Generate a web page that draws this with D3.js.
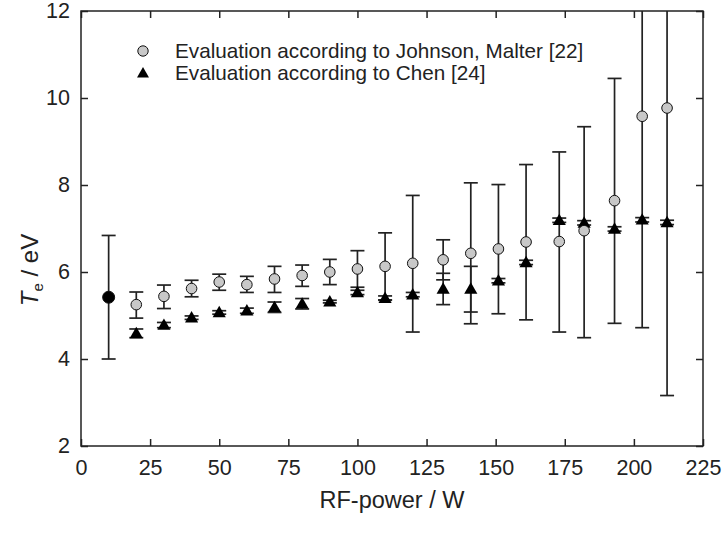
<!DOCTYPE html>
<html>
<head>
<meta charset="utf-8">
<script src="https://cdn.jsdelivr.net/npm/d3@7"></script>
<style>
  html, body { margin: 0; padding: 0; background: #fff; }
  svg { display: block; font-family: "Liberation Sans", Arial, Helvetica, sans-serif; }
</style>
</head>
<body>
<svg id="chart" width="723" height="534"></svg>
<script>
// ---- Data ----
const power = [10, 20, 30, 40, 50, 60, 70, 80, 90, 100, 110, 120, 131, 141, 151, 161, 173, 182, 193, 203, 212];

// Evaluation according to Johnson, Malter [22] (circles)
const jmTe   = [5.42, 5.25, 5.44, 5.62, 5.77, 5.71, 5.84, 5.92, 6.00, 6.07, 6.13, 6.20, 6.28, 6.43, 6.53, 6.69, 6.70, 6.95, 7.64, 9.58, 9.77];
const jmLow  = [4.00, 4.94, 5.16, 5.43, 5.58, 5.53, 5.53, 5.67, 5.71, 5.65, 5.36, 4.62, 5.82, 4.81, 5.04, 4.90, 4.62, 4.49, 4.82, 4.72, 3.16];
const jmHigh = [6.84, 5.54, 5.70, 5.81, 5.95, 5.90, 6.13, 6.16, 6.29, 6.49, 6.90, 7.76, 6.74, 8.05, 8.01, 8.47, 8.76, 9.34, 10.45, 14.40, 16.40];

// Evaluation according to Chen [24] (triangles)
const chTe   = [5.42, 4.59, 4.78, 4.95, 5.07, 5.11, 5.19, 5.27, 5.32, 5.53, 5.40, 5.48, 5.61, 5.61, 5.80, 6.22, 7.19, 7.13, 6.99, 7.20, 7.14];
const chLow  = [5.42, 4.49, 4.72, 4.91, 5.03, 5.05, 5.07, 5.15, 5.29, 5.48, 5.35, 5.43, 5.25, 5.08, 5.75, 6.17, 7.14, 7.08, 6.94, 7.15, 7.09];
const chHigh = [5.42, 4.69, 4.84, 4.99, 5.11, 5.17, 5.31, 5.39, 5.35, 5.58, 5.45, 5.53, 5.97, 6.13, 5.85, 6.27, 7.24, 7.18, 7.04, 7.25, 7.19];

const xTicks = [0, 25, 50, 75, 100, 125, 150, 175, 200, 225];
const yTicks = [2, 4, 6, 8, 10, 12];
const legendLabels = ["Evaluation according to Johnson, Malter [22]", "Evaluation according to Chen [24]"];
const xTitle = "RF-power / W";

// ---- Layout ----
const W = 723, H = 534;
const m = { left: 81, right: 20, top: 11, bottom: 88 };
const iw = W - m.left - m.right, ih = H - m.top - m.bottom;
const ink = "#222";

const svg = d3.select("#chart");
const g = svg.append("g").attr("transform", `translate(${m.left},${m.top})`);

const x = d3.scaleLinear().domain([0, 225]).range([0, iw]);
const y = d3.scaleLinear().domain([2, 12]).range([ih, 0]);

svg.append("defs").append("clipPath").attr("id", "clip")
  .append("rect").attr("x", 0).attr("y", 0).attr("width", iw).attr("height", ih);

// ---- Axes ----
const tickLen = 7;
const styleAxis = sel => {
  sel.select(".domain").remove();
  sel.selectAll(".tick line").attr("stroke", ink).attr("stroke-width", 1.5);
  sel.selectAll(".tick text").attr("fill", ink).style("font-size", "21.5px");
};
g.append("g").attr("transform", `translate(0,${ih})`)
  .call(d3.axisBottom(x).tickValues(xTicks).tickSize(-tickLen).tickPadding(14).tickFormat(d3.format("d")))
  .call(styleAxis);
g.append("g")
  .call(d3.axisTop(x).tickValues(xTicks).tickSize(-tickLen).tickFormat(""))
  .call(styleAxis);
g.append("g")
  .call(d3.axisLeft(y).tickValues(yTicks).tickSize(-tickLen).tickPadding(11).tickFormat(d3.format("d")))
  .call(styleAxis);
g.append("g").attr("transform", `translate(${iw},0)`)
  .call(d3.axisRight(y).tickValues(yTicks).tickSize(-tickLen).tickFormat(""))
  .call(styleAxis);

// frame
g.append("rect").attr("x", 0).attr("y", 0).attr("width", iw).attr("height", ih)
  .attr("fill", "none").attr("stroke", ink).attr("stroke-width", 1.5);

// ---- Error bars ----
const cap = 7;
const plot = g.append("g").attr("clip-path", "url(#clip)");
function errBars(lo, hi, cls) {
  const eb = plot.append("g").attr("class", cls).attr("stroke", ink).attr("stroke-width", 1.7).attr("fill", "none");
  power.forEach((p, i) => {
    if (lo[i] === hi[i]) return;
    const cx = x(p), y0 = y(lo[i]), y1 = y(hi[i]);
    eb.append("line").attr("x1", cx).attr("x2", cx).attr("y1", y0).attr("y2", y1);
    eb.append("line").attr("x1", cx - cap).attr("x2", cx + cap).attr("y1", y0).attr("y2", y0);
    eb.append("line").attr("x1", cx - cap).attr("x2", cx + cap).attr("y1", y1).attr("y2", y1);
  });
}
errBars(jmLow, jmHigh, "eb-jm");
errBars(chLow, chHigh, "eb-ch");

// ---- Markers ----
const triPath = d3.symbol().type(d3.symbolTriangle).size(75);
plot.append("g").selectAll("path").data(power.map((p, i) => ({ p, v: chTe[i], same: chTe[i] === jmTe[i] })))
  .join("path")
  .filter(d => !d.same)
  .attr("d", triPath)
  .attr("transform", d => `translate(${x(d.p)},${y(d.v) + 1})`)
  .attr("fill", "#000");

plot.append("g").selectAll("circle").data(power.map((p, i) => ({ p, v: jmTe[i], same: chTe[i] === jmTe[i] })))
  .join("circle")
  .attr("cx", d => x(d.p)).attr("cy", d => y(d.v)).attr("r", d => d.same ? 6 : 5.3)
  .attr("fill", d => d.same ? "#000" : "#c8c8c8")
  .attr("stroke", "#111").attr("stroke-width", 1);

// ---- Legend ----
const lg = svg.append("g").attr("transform", "translate(143,51)");
lg.append("circle").attr("cx", 0).attr("cy", 0).attr("r", 5.2).attr("fill", "#c8c8c8").attr("stroke", "#111");
lg.append("path").attr("d", d3.symbol().type(d3.symbolTriangle).size(62)).attr("transform", "translate(0,23)").attr("fill", "#000");
lg.selectAll("text").data(legendLabels).join("text")
  .attr("x", 32).attr("y", (d, i) => i * 22 + 7)
  .attr("fill", ink).style("font-size", "20.7px").text(d => d);

// ---- Axis titles ----
svg.append("text").attr("x", m.left + iw / 2).attr("y", 508).attr("text-anchor", "middle")
  .attr("fill", ink).style("font-size", "23.5px").text(xTitle);

const yt = svg.append("text").attr("transform", "translate(38,270) rotate(-90)")
  .attr("text-anchor", "middle").attr("fill", ink).style("font-size", "24px");
yt.append("tspan").attr("font-style", "italic").text("T");
yt.append("tspan").attr("dy", 5).style("font-size", "15px").text("e");
yt.append("tspan").attr("dy", -5).text(" / eV");
</script>
</body>
</html>
